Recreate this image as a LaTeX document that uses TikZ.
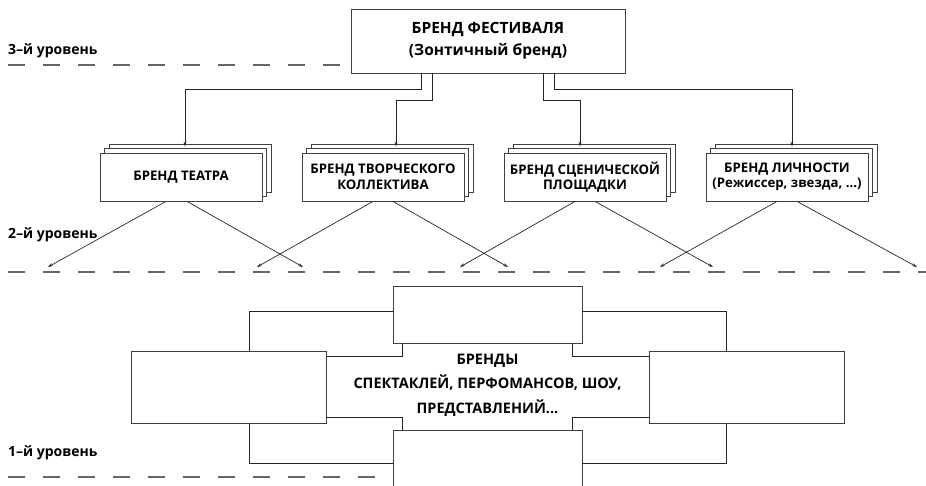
\documentclass[tikz,border=0pt]{standalone}
\usepackage{fontspec}
\setmainfont{Open Sans}
\usetikzlibrary{calc, shapes, arrows.meta, shadows}
\usetikzlibrary{positioning}
\tikzstyle{festbox} = [rectangle, draw=black!75, line width=0.9pt, fill=white, align=center, minimum width=274pt, minimum height=64pt, font=\bfseries\fontsize{15.5}{22}\selectfont]
\tikzstyle{brandbox} = [rectangle, draw=black!75, line width=0.8pt, fill=white, align=center, minimum width=162pt, minimum height=48pt, font=\bfseries\fontsize{13.2}{15.5}\selectfont, double copy shadow={shadow xshift=4.5pt, shadow yshift=4.5pt, draw=black!75, line width=0.8pt, fill=white}]
\tikzstyle{showbox} = [rectangle, draw=black!75, line width=0.9pt, fill=white]
\tikzstyle{levelline} = [black!60, line width=1.1pt, dash pattern=on 17pt off 18pt]
\tikzstyle{leveltext} = [anchor=west, inner sep=0pt, font=\bfseries\fontsize{14}{16}\selectfont]
\tikzstyle{link} = [black!85, line width=0.7pt]
\tikzstyle{arr} = [link, -{Stealth[length=5pt, width=3pt]}]

\begin{document}
\begin{tikzpicture}[x=1pt, y=-1pt]
        \useasboundingbox (0, 0) rectangle (926, 486);
        \clip (0, 0) rectangle (926, 486);

        \node[leveltext] at (8, 51) (LevelThree) {3–й уровень};
        \draw[levelline] (8, 65) -- (340, 65);
        \node[leveltext] at (8, 235) (LevelTwo) {2–й уровень};
        \draw[levelline] (8, 272) -- (926, 272);
        \node[leveltext] at (8, 453) (LevelOne) {1–й уровень};
        \draw[levelline] (8, 477) -- (375, 477);

        \node[festbox] at (488, 41) (FestivalBrand) {БРЕНД ФЕСТИВАЛЯ\\(Зонтичный бренд)};

        \node[brandbox] at (181, 177) (TheatreBrand) {БРЕНД ТЕАТРА};
        \node[brandbox] at (383, 177) (TroupeBrand) {БРЕНД ТВОРЧЕСКОГО\\КОЛЛЕКТИВА};
        \node[brandbox] at (585, 177) (StageBrand) {БРЕНД СЦЕНИЧЕСКОЙ\\ПЛОЩАДКИ};
        \node[brandbox] at (787, 177) (PersonBrand) {БРЕНД ЛИЧНОСТИ\\(Режиссер, звезда, ...)};

        \draw[arr] ([xshift=-67pt]FestivalBrand.south) -- ++(0, 16) -| ([xshift=4pt, yshift=6pt]TheatreBrand.north);
        \draw[arr] ([xshift=-56pt]FestivalBrand.south) -- ++(0, 27) -| ([xshift=13pt, yshift=6pt]TroupeBrand.north);
        \draw[arr] ([xshift=55pt]FestivalBrand.south) -- ++(0, 27) -| ([xshift=-5pt, yshift=6pt]StageBrand.north);
        \draw[arr] ([xshift=66pt]FestivalBrand.south) -- ++(0, 16) -| ([xshift=5pt, yshift=6pt]PersonBrand.north);

        \coordinate (TheatreLeft) at (48, 267);
        \coordinate (TheatreRight) at (303, 267);
        \coordinate (TroupeLeft) at (257, 267);
        \coordinate (TroupeRight) at (508, 267);
        \coordinate (StageLeft) at (460, 267);
        \coordinate (StageRight) at (713, 267);
        \coordinate (PersonLeft) at (660, 267);
        \coordinate (PersonRight) at (917, 267);

        \draw[arr] ([xshift=-15pt]TheatreBrand.south) -- (TheatreLeft);
        \draw[arr] ([xshift=6pt]TheatreBrand.south) -- (TheatreRight);
        \draw[arr] ([xshift=-10pt]TroupeBrand.south) -- (TroupeLeft);
        \draw[arr] ([xshift=10pt]TroupeBrand.south) -- (TroupeRight);
        \draw[arr] ([xshift=-10pt]StageBrand.south) -- (StageLeft);
        \draw[arr] ([xshift=10pt]StageBrand.south) -- (StageRight);
        \draw[arr] ([xshift=-10pt]PersonBrand.south) -- (PersonLeft);
        \draw[arr] ([xshift=10pt]PersonBrand.south) -- (PersonRight);

        \node[showbox, minimum width=189pt, minimum height=57pt] at (487.5, 314.5) (ShowTop) {};
        \node[showbox, minimum width=189pt, minimum height=60pt] at (487.5, 460) (ShowBottom) {};
        \node[showbox, minimum width=195pt, minimum height=72pt] at (228.5, 387) (ShowLeft) {};
        \node[showbox, minimum width=195pt, minimum height=72pt] at (746.5, 387) (ShowRight) {};
        \node[align=center, font=\bfseries\fontsize{14.5}{24.5}\selectfont] at (487.5, 385) (Shows) {БРЕНДЫ\\СПЕКТАКЛЕЙ, ПЕРФОМАНСОВ, ШОУ,\\ПРЕДСТАВЛЕНИЙ...};

        \draw[link] ([yshift=3.5pt]ShowTop.west) -| ([xshift=20.5pt]ShowLeft.north);
        \draw[link] ([xshift=20.5pt]ShowLeft.south) |- ([yshift=-3pt]ShowBottom.west);
        \draw[link] ([xshift=10pt]ShowTop.south west) |- ([yshift=-6pt]ShowLeft.north east);
        \draw[link] ([yshift=6pt]ShowLeft.south east) -| ([xshift=10pt]ShowBottom.north west);
        \draw[link] ([yshift=3.5pt]ShowTop.east) -| ([xshift=-20.5pt]ShowRight.north);
        \draw[link] ([xshift=-20.5pt]ShowRight.south) |- ([yshift=-3pt]ShowBottom.east);
        \draw[link] ([xshift=-10pt]ShowTop.south east) |- ([yshift=-6pt]ShowRight.north west);
        \draw[link] ([yshift=6pt]ShowRight.south west) -| ([xshift=-10pt]ShowBottom.north east);
\end{tikzpicture}
\end{document}
